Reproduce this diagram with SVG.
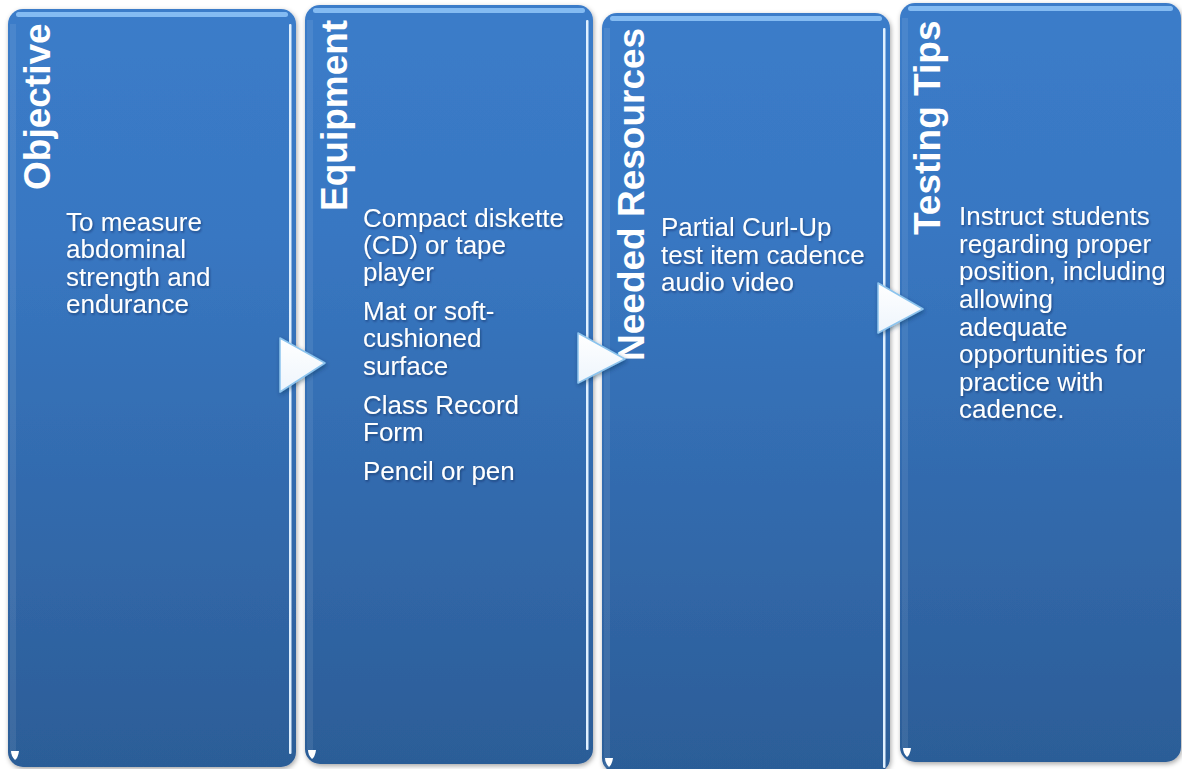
<svg xmlns="http://www.w3.org/2000/svg" width="1182" height="769" viewBox="0 0 1182 769">
<defs>
<style>
.box{fill:url(#boxg);filter:url(#sh);}
.hl{fill:#9dd0ff;opacity:0.75;}
.edge{fill:#dff0ff;}
.ledge{fill:#ffffff;opacity:0.08;}
.title{font-family:"Liberation Sans",Arial,sans-serif;font-weight:bold;font-size:37px;fill:#ffffff;}
.body{font-family:"Liberation Sans",Arial,sans-serif;font-size:26px;fill:#ffffff;filter:url(#tsh);}
.arrow{fill:url(#arrg);stroke:#8cc4ee;stroke-width:1.5;stroke-linejoin:round;filter:url(#ash);}
.corner{fill:#ffffff;}
</style>
<linearGradient id="boxg" x1="0" y1="0" x2="0" y2="1">
<stop offset="0" stop-color="#3b7cc9"/>
<stop offset="0.3" stop-color="#3877c2"/>
<stop offset="1" stop-color="#2c5d97"/>
</linearGradient>
<linearGradient id="arrg" x1="0" y1="0" x2="0" y2="1">
<stop offset="0" stop-color="#ffffff"/>
<stop offset="1" stop-color="#eef5fc"/>
</linearGradient>
<filter id="sh" x="-10%" y="-5%" width="120%" height="110%">
<feDropShadow dx="1" dy="2" stdDeviation="2.5" flood-color="#000" flood-opacity="0.35"/>
</filter>
<filter id="tsh" x="-10%" y="-20%" width="120%" height="140%">
<feDropShadow dx="1" dy="1.5" stdDeviation="1.2" flood-color="#0a1f3a" flood-opacity="0.45"/>
</filter>
<filter id="ash" x="-30%" y="-30%" width="160%" height="160%">
<feDropShadow dx="1" dy="2" stdDeviation="2" flood-color="#0a2a50" flood-opacity="0.45"/>
</filter>
</defs>

<g id="node-objective">
<rect class="box" x="8" y="9" width="288" height="758" rx="15"/>
<rect class="hl" x="16" y="12" width="272" height="5" rx="2.5"/>
<rect class="ledge" x="10" y="24" width="6" height="730"/>
<rect class="edge" x="289" y="24" width="2.5" height="730" rx="1"/>
<path class="corner" d="M11 751 L19 751 Q18 758 15 760 Q11 756 11 751 Z"/>
<text class="title" transform="translate(50 190) rotate(-90)">Objective</text>
<text class="body" x="66">
<tspan x="66" y="231">To measure</tspan>
<tspan x="66" y="258">abdominal</tspan>
<tspan x="66" y="286">strength and</tspan>
<tspan x="66" y="313">endurance</tspan>
</text>
</g>

<g id="node-equipment">
<rect class="box" x="305" y="5" width="288" height="759" rx="15"/>
<rect class="hl" x="313" y="8" width="272" height="5" rx="2.5"/>
<rect class="ledge" x="307" y="20" width="6" height="730"/>
<rect class="edge" x="586" y="20" width="2.5" height="730" rx="1"/>
<path class="corner" d="M308 750 L316 750 Q315 757 312 759 Q308 755 308 750 Z"/>
<text class="title" transform="translate(347 211) rotate(-90)">Equipment</text>
<text class="body">
<tspan x="363" y="227">Compact diskette</tspan>
<tspan x="363" y="254">(CD) or tape</tspan>
<tspan x="363" y="281">player</tspan>
<tspan x="363" y="320">Mat or soft-</tspan>
<tspan x="363" y="347">cushioned</tspan>
<tspan x="363" y="375">surface</tspan>
<tspan x="363" y="414">Class Record</tspan>
<tspan x="363" y="441">Form</tspan>
<tspan x="363" y="480">Pencil or pen</tspan>
</text>
</g>

<g id="node-resources">
<rect class="box" x="602" y="13" width="288" height="760" rx="15"/>
<rect class="hl" x="610" y="16" width="272" height="5" rx="2.5"/>
<rect class="ledge" x="604" y="28" width="6" height="740"/>
<rect class="edge" x="883" y="28" width="2.5" height="740" rx="1"/>
<path class="corner" d="M605 758 L613 758 Q612 765 609 767 Q605 763 605 758 Z"/>
<text class="title" transform="translate(644 361) rotate(-90)">Needed Resources</text>
<text class="body">
<tspan x="661" y="236">Partial Curl-Up</tspan>
<tspan x="661" y="264">test item cadence</tspan>
<tspan x="661" y="291">audio video</tspan>
</text>
</g>

<g id="node-tips">
<rect class="box" x="900" y="3" width="281" height="759" rx="15"/>
<rect class="hl" x="908" y="6" width="265" height="5" rx="2.5"/>
<rect class="ledge" x="902" y="18" width="6" height="730"/>
<path class="corner" d="M903 748 L911 748 Q910 755 907 757 Q903 753 903 748 Z"/>
<text class="title" transform="translate(940 235) rotate(-90)">Testing Tips</text>
<text class="body">
<tspan x="959" y="225">Instruct students</tspan>
<tspan x="959" y="253">regarding proper</tspan>
<tspan x="959" y="280">position, including</tspan>
<tspan x="959" y="308">allowing</tspan>
<tspan x="959" y="336">adequate</tspan>
<tspan x="959" y="363">opportunities for</tspan>
<tspan x="959" y="391">practice with</tspan>
<tspan x="959" y="418">cadence.</tspan>
</text>
</g>

<g id="connectors">
<polygon class="arrow" points="280,338 325,363 280,392"/>
<polygon class="arrow" points="578,333 625,359 578,383"/>
<polygon class="arrow" points="878,283 923,309 878,333"/>
</g>
</svg>
